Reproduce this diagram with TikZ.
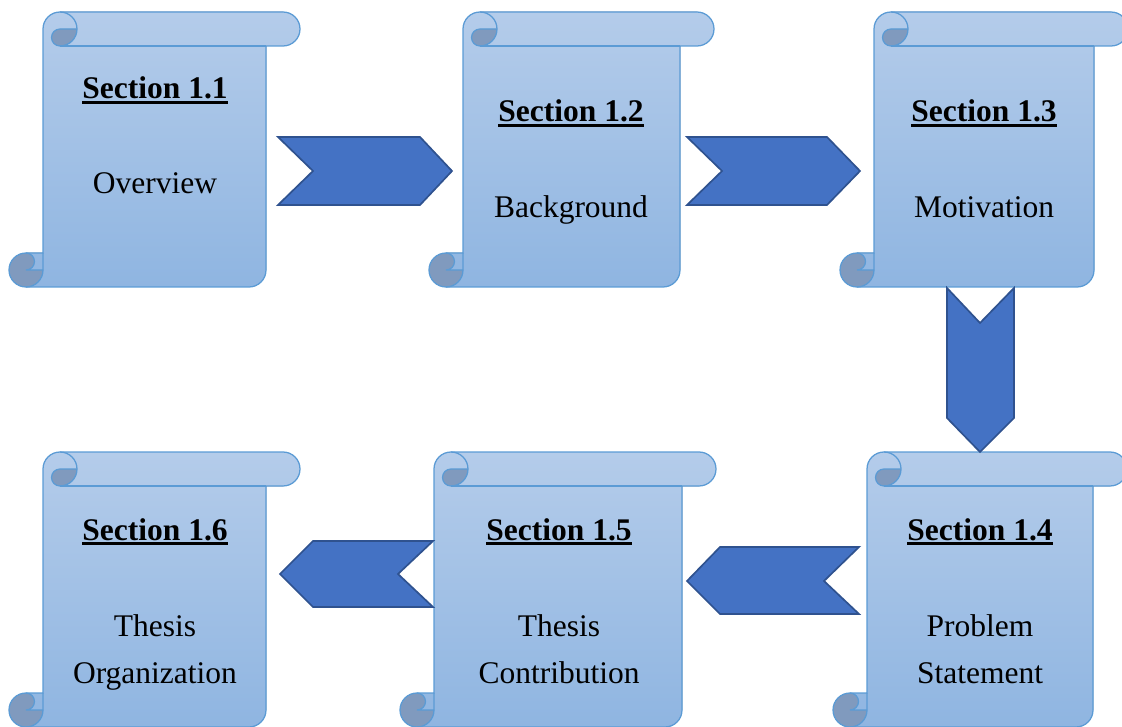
\documentclass[tikz,border=0pt]{standalone}
\usepackage{fontspec}
\setmainfont{Liberation Serif}
\usepackage{tikz}
\definecolor{rolltop}{RGB}{180,204,234}
\definecolor{rollbot}{RGB}{143,181,225}
\definecolor{curlfill}{RGB}{128,154,190}
\definecolor{scrollline}{RGB}{91,155,213}
\definecolor{chevfill}{RGB}{68,114,196}
\definecolor{chevline}{RGB}{47,82,143}
\newcommand{\ulsec}[1]{\setbox0=\hbox{\bfseries #1}\rlap{\rule[-3.4pt]{\wd0}{1.8pt}}\box0}
% scroll: left, top, width (height is always 275)
\newcommand{\scroll}[3]{%
	\begin{scope}[shift={(#1,#2)}]
		\pgfmathsetmacro\xsix{#3-34}
		\pgfmathsetmacro\xseven{#3-17}
		\fill[top color=rolltop, bottom color=rollbot] (34,241) -- (34,17) arc[start angle=180,delta angle=90,radius=17] -- (\xseven,0) arc[start angle=270,delta angle=180,radius=17] -- (\xsix,34) -- (\xsix,258) arc[start angle=0,delta angle=90,radius=17] -- (17,275) arc[start angle=90,delta angle=180,radius=17] -- cycle;
		\fill[curlfill] (68,17) arc[start angle=0,delta angle=90,radius=17] arc[start angle=90,delta angle=180,radius=8.5] -- cycle;
		\fill[curlfill] (34,258) arc[start angle=0,delta angle=270,radius=17] arc[start angle=270,delta angle=180,radius=8.5] -- cycle;
		\draw[scrollline, line width=0.9pt] (34,241) -- (34,17) arc[start angle=180,delta angle=90,radius=17] -- (\xseven,0) arc[start angle=270,delta angle=180,radius=17] -- (\xsix,34) -- (\xsix,258) arc[start angle=0,delta angle=90,radius=17] -- (17,275) arc[start angle=90,delta angle=180,radius=17] -- cycle;
		\draw[scrollline, line width=0.9pt] (51,0) arc[start angle=270,delta angle=180,radius=17] arc[start angle=90,delta angle=180,radius=8.5] -- (68,17);
		\draw[scrollline, line width=0.9pt] (\xsix,34) -- (51,34);
		\draw[scrollline, line width=0.9pt] (17,241) arc[start angle=270,delta angle=180,radius=8.5] -- (34,258);
		\draw[scrollline, line width=0.9pt] (17,275) arc[start angle=90,delta angle=-90,radius=17] -- (34,241);
	\end{scope}
}

\begin{document}
\begin{tikzpicture}[x=0.025cm, y=-0.025cm,
		label/.style={font=\fontsize{22.4}{33.3}\selectfont, inner sep=0pt, anchor=base, align=center},
		chev/.style={fill=chevfill, draw=chevline, line width=1.2pt, line join=miter}]
			%%%%% START %%%%%
			\useasboundingbox (0,0) rectangle (1122,727);
			
			\scroll{9}{12}{291}
			\scroll{429}{12}{285}
			\scroll{840}{12}{288}
			\scroll{833}{452}{294}
			\scroll{400}{452}{316}
			\scroll{9}{452}{291}
			
			\node[label] (sec11) at (155,99) {\ulsec{Section 1.1}};
			\node[label] (overview) at (155,194) {Overview};
			\node[label] (sec12) at (571,122) {\ulsec{Section 1.2}};
			\node[label] (background) at (571,218) {Background};
			\node[label] (sec13) at (984,122) {\ulsec{Section 1.3}};
			\node[label] (motivation) at (984,218) {Motivation};
			
			% two-line labels sit on the baseline of their last line
			\node[label] (sec14) at (980,540) {\ulsec{Section 1.4}};
			\node[label] (problem) at (980,683) {Problem\\Statement};
			\node[label] (sec15) at (559,540) {\ulsec{Section 1.5}};
			\node[label] (contribution) at (559,683) {Thesis\\Contribution};
			\node[label] (sec16) at (155,540) {\ulsec{Section 1.6}};
			\node[label] (organization) at (155,683) {Thesis\\Organization};
			
			% chevrons
			\draw[chev] (278,137) -- (420,137) -- (452,171) -- (420,205) -- (278,205) -- (313,171) -- cycle;
			\draw[chev] (687,137) -- (827,137) -- (860,171) -- (827,205) -- (687,205) -- (722,171) -- cycle;
			\draw[chev] (947,288) -- (980,323) -- (1014,288) -- (1014,418) -- (980,452) -- (947,418) -- cycle;
			\draw[chev] (859,547) -- (720,547) -- (687,581) -- (720,614) -- (859,614) -- (824,581) -- cycle;
			\draw[chev] (433,541) -- (313,541) -- (280,574) -- (313,607) -- (433,607) -- (398,574) -- cycle;
			
			%%%%% END %%%%%
		\end{tikzpicture}
\end{document}
